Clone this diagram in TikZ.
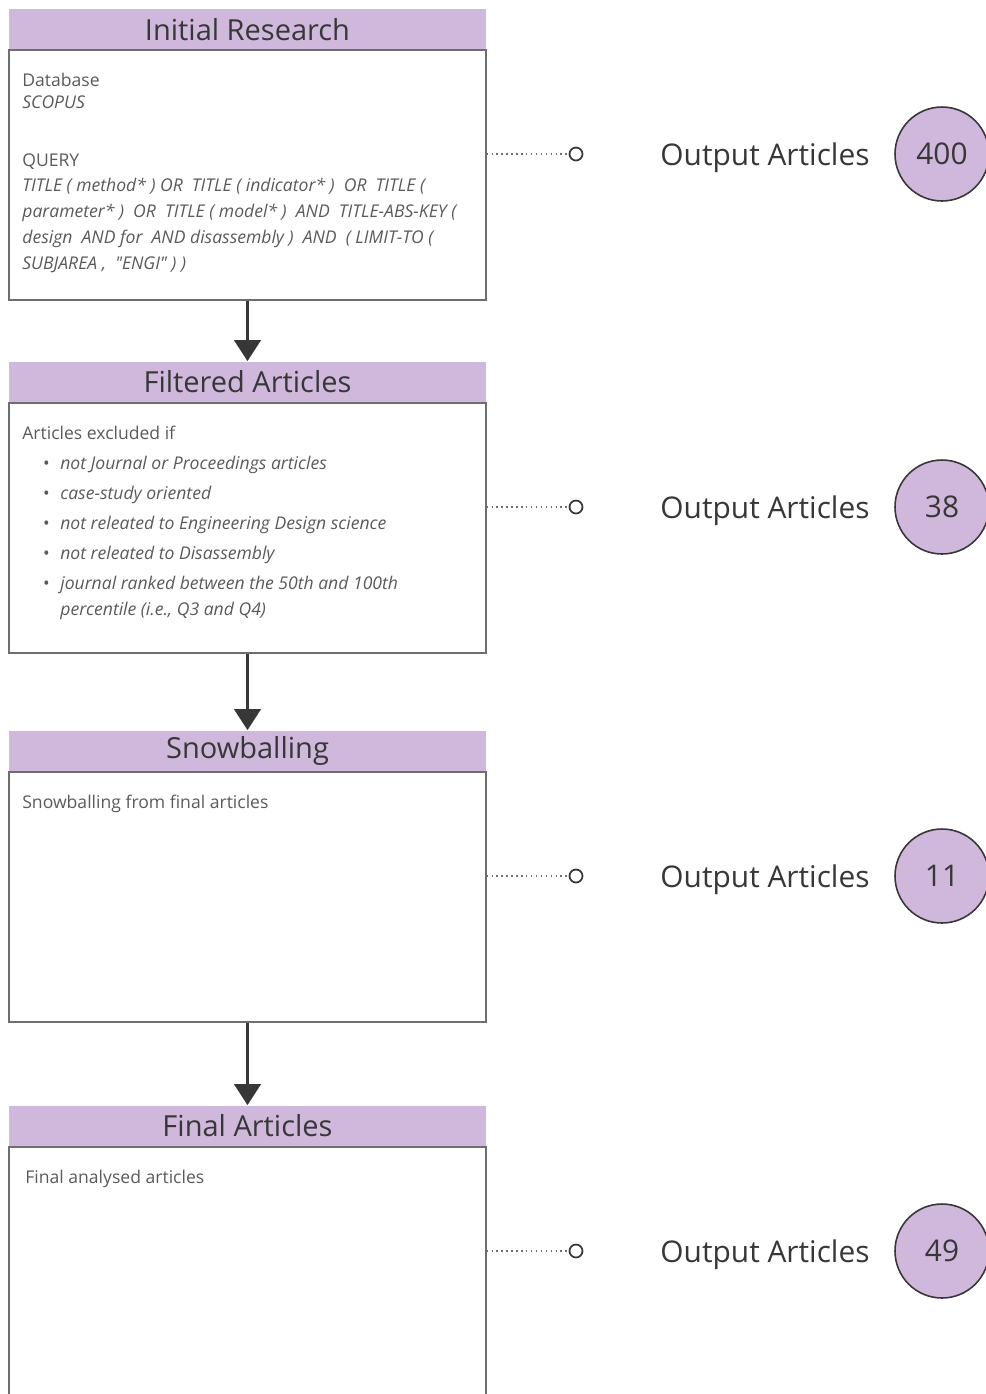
\documentclass[tikz,border=0pt]{standalone}
\usepackage{fontspec}
\setmainfont{Open Sans}
\usetikzlibrary{arrows.meta}

\definecolor{lilac}{RGB}{208,184,220}
\definecolor{boxgray}{RGB}{110,110,110}
\definecolor{txtdark}{RGB}{55,55,55}
\definecolor{txtgray}{RGB}{90,90,90}

\begin{document}
\begin{tikzpicture}[x=0.02cm, y=-0.02cm,
  header/.style={rectangle, fill=lilac, minimum width=9.54cm, minimum height=0.82cm,
                 inner sep=0pt, font=\fontsize{16.5}{18}\selectfont, text=txtdark},
  body/.style={rectangle, draw=boxgray, line width=0.8pt, minimum width=9.54cm,
               minimum height=5cm, inner sep=0pt},
  bodytext/.style={anchor=north west, inner sep=0pt, align=left, text=txtgray,
                   font=\fontsize{10}{12.5}\selectfont},
  flow/.style={-{Triangle[width=15pt, length=12pt]}, line width=1.9pt, draw=txtdark},
  link/.style={dotted, line width=0.8pt, draw=boxgray},
  pin/.style={circle, draw=txtdark, line width=1pt, fill=white, minimum size=0.26cm, inner sep=0pt},
  outlabel/.style={anchor=base, font=\fontsize{17}{20}\selectfont, text=txtdark},
  count/.style={circle, draw=txtdark, line width=0.9pt, fill=lilac, minimum size=1.88cm,
                inner sep=0pt, font=\fontsize{17}{20}\selectfont, text=txtdark}
]
  \useasboundingbox (0,0) rectangle (985,1394);

  % Initial Research
  \node[header] (hdr1) at (247.5,29.5) {Initial Research};
  \node[body] (box1) at (247.5,175) {};
  \node[bodytext] (db1) at (22,73) {Database\\\textit{SCOPUS}};
  \node[bodytext, font=\fontsize{10}{14.7}\selectfont] (qry1) at (22,153)
    {QUERY\\
     \textit{TITLE ( method* ) OR\ \ TITLE ( indicator* )\ \ OR\ \ TITLE (}\\
     \textit{parameter* )\ \ OR\ \ TITLE ( model* )\ \ AND\ \ TITLE-ABS-KEY (}\\
     \textit{design\ \ AND for\ \ AND disassembly )\ \ AND\ \ ( LIMIT-TO (}\\
     \textit{SUBJAREA ,\ \ \textquotedbl ENGI\textquotedbl\ ) )}};

  % Filtered Articles
  \node[header] (hdr2) at (247.5,382) {Filtered Articles};
  \node[body] (box2) at (247.5,528) {};
  \node[bodytext] (excl2) at (22,426) {Articles excluded if};
  \node[bodytext, font=\fontsize{10}{14.7}\selectfont] (list2) at (60,456)
    {\llap{\textbullet\hspace{6pt}}\textit{not Journal or Proceedings articles}\\[2.3pt]
     \llap{\textbullet\hspace{6pt}}\textit{case-study oriented}\\[2.3pt]
     \llap{\textbullet\hspace{6pt}}\textit{not releated to Engineering Design science}\\[2.3pt]
     \llap{\textbullet\hspace{6pt}}\textit{not releated to Disassembly}\\[2.3pt]
     \llap{\textbullet\hspace{6pt}}\textit{journal ranked between the 50th and 100th}\\
     \textit{percentile (i.e., Q3 and Q4)}};

  % Snowballing
  \node[header] (hdr3) at (247.5,751) {Snowballing};
  \node[body] (box3) at (247.5,897) {};
  \node[bodytext] (snow3) at (22,795) {Snowballing from final articles};

  % Final Articles
  \node[header] (hdr4) at (247.5,1126) {Final Articles};
  \node[body] (box4) at (247.5,1272) {};
  \node[bodytext] (fin4) at (25,1170) {Final analysed articles};

  % Flow arrows
  \draw[flow] (box1.south) -- (hdr2.north);
  \draw[flow] (box2.south) -- (hdr3.north);
  \draw[flow] (box3.south) -- (hdr4.north);

  % Outputs
  \foreach \i/\y/\n in {1/154/400, 2/507/38, 3/876/11, 4/1251/49} {
    \node[pin] (pin\i) at (576,\y) {};
    \draw[link] (box\i.east |- pin\i) -- (pin\i);
    \node[outlabel] (out\i) at (765,\y+11) {Output Articles};
    \node[count] (num\i) at (942,\y) {\n};
  }
\end{tikzpicture}
\end{document}
